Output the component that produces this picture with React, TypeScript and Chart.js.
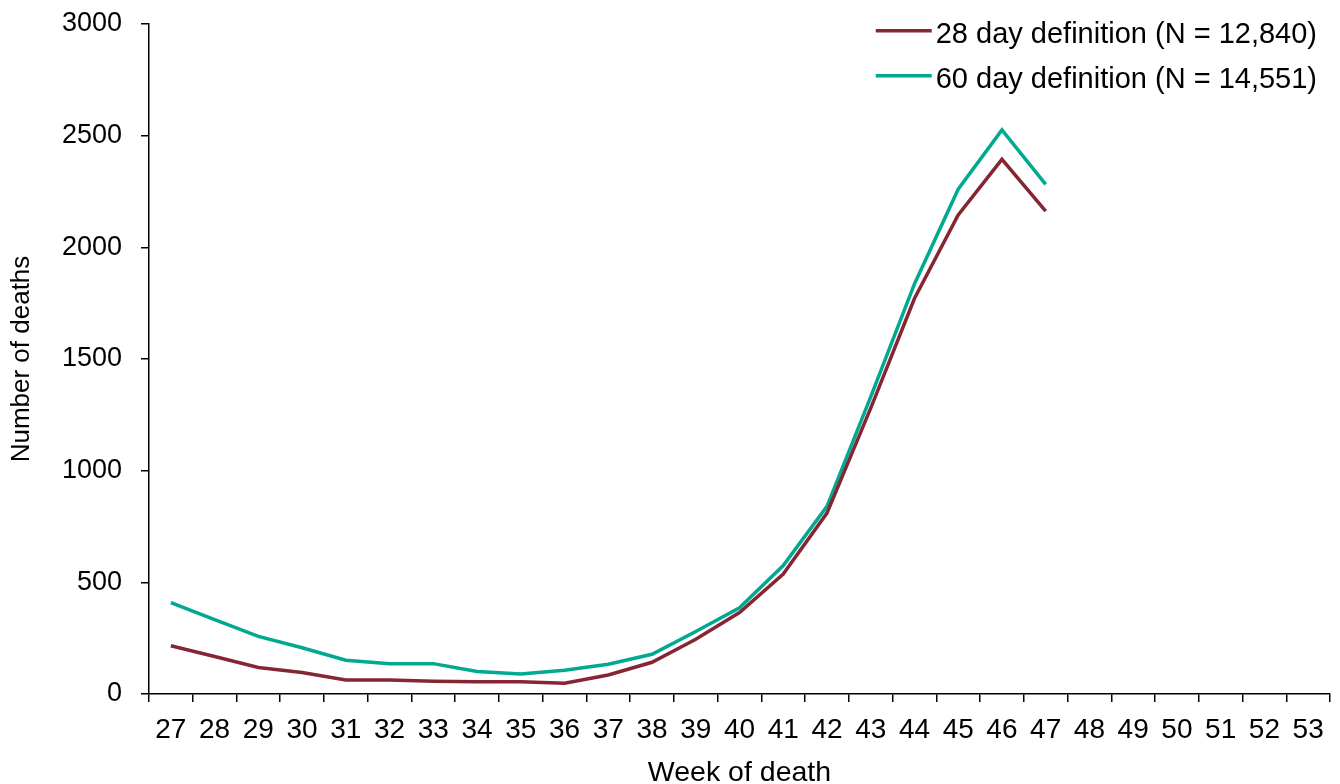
import React, { useEffect, useRef } from "react";
import { Chart, registerables } from "chart.js";

Chart.register(...registerables);

const weeks = [
  "27", "28", "29", "30", "31", "32", "33", "34", "35", "36", "37", "38", "39", "40",
  "41", "42", "43", "44", "45", "46", "47", "48", "49", "50", "51", "52", "53",
];
const deaths28 = [216, 168, 119, 96, 63, 63, 57, 55, 55, 48, 85, 142, 245, 365, 537, 810, 1280, 1771, 2145, 2394, 2162];
const deaths60 = [409, 333, 258, 207, 151, 136, 136, 101, 90, 106, 133, 178, 280, 386, 575, 840, 1330, 1836, 2260, 2526, 2282];
const seriesLabels = ["28 day definition (N = 12,840)", "60 day definition (N = 14,551)"];
const seriesColors = ["#862633", "#00A98F"];
const yMin = 0;
const yMax = 3000;
const yStep = 500;
const xTitle = "Week of death";
const yTitle = "Number of deaths";

const FONT = "'Liberation Sans', Arial, Helvetica, sans-serif";

export default function App() {
  const ref = useRef<HTMLCanvasElement>(null);

  useEffect(() => {
    const canvas = ref.current;
    if (!canvas) return;

    const legendPlugin = {
      id: "insideLegend",
      afterDraw(chart: any) {
        const ctx = chart.ctx as CanvasRenderingContext2D;
        const area = chart.chartArea;
        ctx.save();
        ctx.font = `29px ${FONT}`;
        ctx.fillStyle = "#000";
        ctx.textAlign = "left";
        ctx.textBaseline = "alphabetic";
        const widths = chart.data.datasets.map((d: any) => ctx.measureText(d.label).width);
        const maxW = Math.max(...widths);
        const textX = area.right - 13 - maxW;
        chart.data.datasets.forEach((d: any, i: number) => {
          const lineY = area.top + 6.7 + i * 45;
          const baseY = area.top + 19 + i * 44.5;
          ctx.strokeStyle = d.borderColor;
          ctx.lineWidth = 3.4;
          ctx.lineCap = "butt";
          ctx.beginPath();
          ctx.moveTo(textX - 60, lineY);
          ctx.lineTo(textX - 4, lineY);
          ctx.stroke();
          ctx.fillText(d.label, textX, baseY);
        });
        ctx.restore();
      },
    };

    const chart = new Chart(canvas, {
      type: "line",
      data: {
        labels: weeks,
        datasets: [
          {
            label: seriesLabels[0],
            data: deaths28,
            borderColor: seriesColors[0],
            backgroundColor: seriesColors[0],
            borderWidth: 3.5,
            pointRadius: 0,
            tension: 0,
            fill: false,
          },
          {
            label: seriesLabels[1],
            data: deaths60,
            borderColor: seriesColors[1],
            backgroundColor: seriesColors[1],
            borderWidth: 3.5,
            pointRadius: 0,
            tension: 0,
            fill: false,
          },
        ],
      },
      options: {
        responsive: false,
        animation: false,
        devicePixelRatio: 1,
        layout: { padding: { top: 24, right: 10, left: 0, bottom: 0 } },
        plugins: {
          legend: { display: false },
          tooltip: { enabled: false },
        },
        scales: {
          x: {
            offset: true,
            grid: {
              offset: true,
              drawOnChartArea: false,
              drawTicks: true,
              tickLength: 8,
              color: "#000",
              lineWidth: 1.5,
            },
            border: { display: true, color: "#000", width: 1.5 },
            ticks: {
              color: "#000",
              font: { family: FONT, size: 28 },
              padding: 11,
              maxRotation: 0,
              autoSkip: false,
            },
            title: {
              display: true,
              text: xTitle,
              color: "#000",
              font: { family: FONT, size: 28.5 },
              padding: { top: 0, bottom: -6 },
            },
            afterFit(scale: any) {
              scale.height = 90;
              scale.paddingLeft = 0;
              scale.paddingRight = 0;
            },
          },
          y: {
            min: yMin,
            max: yMax,
            grid: {
              drawOnChartArea: false,
              drawTicks: true,
              tickLength: 8,
              color: "#000",
              lineWidth: 1.5,
            },
            border: { display: true, color: "#000", width: 1.5 },
            ticks: {
              stepSize: yStep,
              color: "#000",
              font: { family: FONT, size: 27 },
              padding: 19,
              callback: (v: any) => String(v),
            },
            title: {
              display: true,
              text: yTitle,
              color: "#000",
              font: { family: FONT, size: 26 },
              padding: { top: 6.5, bottom: 0 },
            },
            afterFit(scale: any) {
              scale.width = 149;
              scale.paddingTop = 0;
              scale.paddingBottom = 0;
            },
          },
        },
      },
      plugins: [legendPlugin],
    } as any);

    return () => chart.destroy();
  }, []);

  return (
    <div style={{ position: "fixed", left: 0, top: 0, width: 1340, height: 784, background: "#fff" }}>
      <canvas ref={ref} width={1340} height={784} style={{ width: "1340px", height: "784px", display: "block" }} />
    </div>
  );
}
